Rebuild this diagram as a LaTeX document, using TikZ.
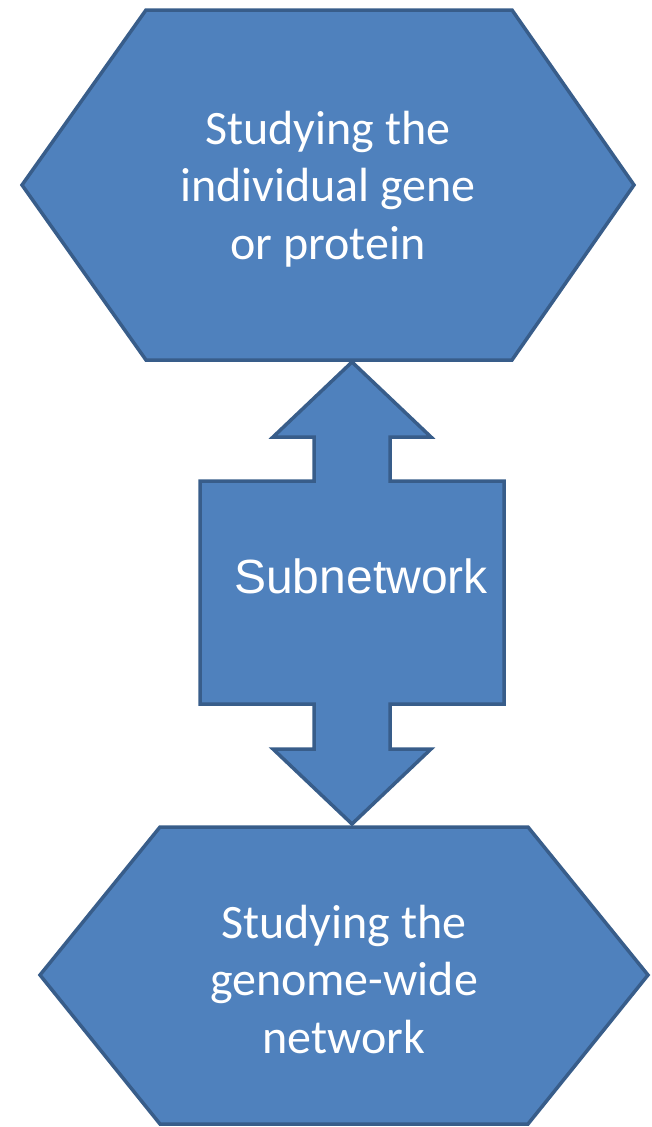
\documentclass[tikz,border=0pt]{standalone}
\usepackage{fontspec}
\setmainfont{Carlito}
\newfontfamily\arialfont{Liberation Sans}
\definecolor{shapefill}{HTML}{4F81BD}
\definecolor{shapeline}{HTML}{385D8A}
\begin{document}
\begin{tikzpicture}[x=1pt,y=-1pt,
  blueshape/.style={fill=shapefill, draw=shapeline, line width=3.5pt},
  hextext/.style={text=white, align=center, inner sep=0pt, font=\fontsize{48}{57.5}\selectfont},
  subtext/.style={text=white, inner sep=0pt, font=\arialfont\fontsize{48}{58}\selectfont}]
\useasboundingbox (0,0) rectangle (652,1127);
% top hexagon
\draw[blueshape] (146,10) -- (512,10) -- (634,185) -- (512,360) -- (146,360) -- (22,185) -- cycle;
\node[hextext] (top) at (328,189) {Studying the\\individual gene\\or protein};
% bottom hexagon
\draw[blueshape] (160,827) -- (528,827) -- (648,975) -- (528,1124) -- (160,1124) -- (40,975) -- cycle;
\node[hextext] (bot) at (344,979) {Studying the\\genome-wide\\network};
% up-down arrow callout
\draw[blueshape] (352,362) -- (431,437) -- (390,437) -- (390,481) -- (504,481) -- (504,704)
  -- (390,704) -- (390,749) -- (431,749) -- (352,824) -- (273,749) -- (314,749) -- (314,704)
  -- (200,704) -- (200,481) -- (314,481) -- (314,437) -- (273,437) -- cycle;
\node[subtext, anchor=base] (sub) at (361,593) {Subnetwork};
\end{tikzpicture}
\end{document}
